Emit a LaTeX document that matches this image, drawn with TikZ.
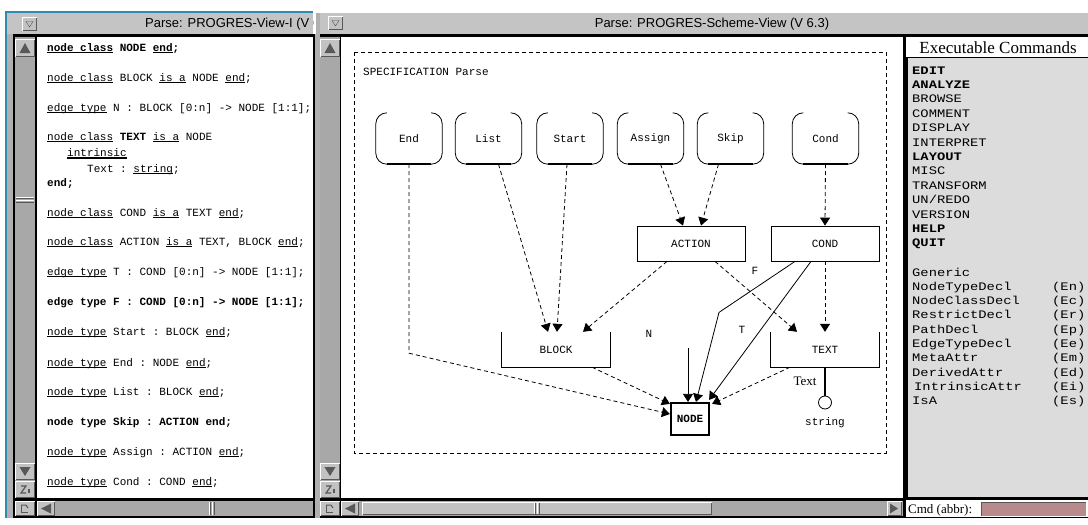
\documentclass[tikz,border=0pt]{standalone}
\usepackage{fontspec}
\setmainfont{Liberation Serif}
\setsansfont{Liberation Sans}
\setmonofont{Liberation Mono}
\newfontfamily\cmdfont[FakeStretch=1.2]{Liberation Mono}
\usetikzlibrary{arrows.meta}

\definecolor{titlegray}{HTML}{C4C4C4}
\definecolor{framegray}{HTML}{B0B0B0}
\definecolor{troughgray}{HTML}{A8A8A8}
\definecolor{btngray}{HTML}{C2C2C2}
\definecolor{btndark}{HTML}{585858}
\definecolor{panegray}{HTML}{DCDCDC}
\definecolor{focusteal}{HTML}{2E8CB0}
\definecolor{fieldpink}{HTML}{B98A8C}

% underlined keyword
\newcommand\ukw[1]{\setbox0\hbox{#1}\rlap{\rule[-2.4pt]{\wd0}{1pt}}\box0\relax}

% bevelled Motif-style button: x1 y1 x2 y2 (y grows downwards)
\newcommand\sbbutton[4]{%
  \fill[btngray] (#1,#2) rectangle (#3,#4);
  \draw[white, line width=1pt] (#1+0.5,#4-0.5) -- (#1+0.5,#2+0.5) -- (#3-0.5,#2+0.5);
  \draw[btndark, line width=1pt] (#1+0.5,#4-0.5) -- (#3-0.5,#4-0.5) -- (#3-0.5,#2+0.5);
}
% vertical and horizontal scrollbar grips
\newcommand\vgrip[3]{%
  \draw[white] (#1,#3-3) -- (#2,#3-3); \draw[btndark] (#1,#3-1.5) -- (#2,#3-1.5);
  \draw[white] (#1,#3+0.5) -- (#2,#3+0.5); \draw[btndark] (#1,#3+2) -- (#2,#3+2);
}
\newcommand\hgrip[3]{%
  \draw[white] (#3-3,#1) -- (#3-3,#2); \draw[btndark] (#3-1.5,#1) -- (#3-1.5,#2);
  \draw[white] (#3+0.5,#1) -- (#3+0.5,#2); \draw[btndark] (#3+2,#1) -- (#3+2,#2);
}
% vertical scrollbar column with its buttons, left x, right x
\newcommand\vscroll[2]{%
  \fill[troughgray] (#1,37) rectangle (#2,498);
  \sbbutton{#1}{39}{#2}{57}
  \fill[btndark] ({(#1+#2)/2},43) -- (#2-4.5,53) -- (#1+4.5,53) -- cycle;
  \sbbutton{#1}{463}{#2}{480}
  \fill[btndark] ({(#1+#2)/2},476) -- (#2-4.5,467) -- (#1+4.5,467) -- cycle;
  \sbbutton{#1}{481}{#2}{498}
  \draw[btndark, line width=1.2pt] (#1+6,486) -- (#1+11,486) -- (#1+6,493) -- (#1+11,493);
  \draw[btndark, line width=1.2pt] (#1+14,489) -- (#1+14,493);
  \sbbutton{#1}{501}{#2}{516}
  \draw[btndark, line width=1pt] (#1+6,505) -- (#1+6,512) -- (#1+13,512);
  \draw[btndark, line width=1pt] (#1+6,505) -- (#1+11,505) -- (#1+13,508);
}

\tikzset{
  isa/.style={dash pattern=on 4pt off 3pt, line width=0.8pt,
              -{Triangle[length=8pt,width=10pt]}},
  rel/.style={line width=0.8pt, -{Triangle[length=8pt,width=10pt]}},
  typebox/.style={minimum width=66pt, minimum height=51pt, inner sep=0pt,
              font=\ttfamily\fontsize{11}{12}\selectfont},
  classbox/.style={minimum width=108pt, minimum height=35pt, inner sep=0pt,
              font=\ttfamily\fontsize{11}{12}\selectfont},
  codeline/.style={anchor=base west, inner sep=0pt,
              font=\ttfamily\fontsize{11}{12}\selectfont},
  cmd/.style={anchor=base west, inner sep=0pt,
              font=\cmdfont\fontsize{11.5}{12}\selectfont},
  monolabel/.style={inner sep=0pt, font=\ttfamily\fontsize{11}{12}\selectfont},
  titletext/.style={inner sep=0pt, anchor=base,
              font=\sffamily\fontsize{13}{14}\selectfont},
}

\newcommand\opentypebox[1]{%
  \draw[line width=0.8pt, rounded corners=11pt]
    ([xshift=11pt]#1.north west) -- (#1.north west) -- (#1.south west)
    -- (#1.south east) -- (#1.north east) -- ([xshift=-11pt]#1.north east);
  \draw[line width=1.8pt] ([xshift=11pt]#1.south west) -- ([xshift=-11pt]#1.south east);
}
\newcommand\openclassbox[1]{%
  \draw[line width=0.8pt] (#1.north west) -- (#1.south west)
    -- (#1.south east) -- (#1.north east);
}

\begin{document}
\begin{tikzpicture}[x=1pt, y=-1pt]
\useasboundingbox (0,0) rectangle (1088,525);
\fill[white] (0,0) rectangle (1088,525);

% ---------------- window frames ----------------
\fill[black] (13,34) rectangle (315,518);
\fill[framegray] (7,12) rectangle (13,518);
\fill[titlegray] (7,12) rectangle (313,34);
\fill[focusteal] (5,12) rectangle (7,518);
\fill[focusteal] (5,11) rectangle (313,12.5);
\fill[black] (320,34) rectangle (1088,518);
\fill[framegray] (315,12) rectangle (320,518);
\fill[titlegray] (320,12) rectangle (1088,34);
\draw[white] (315.5,34) -- (315.5,12.5) -- (1088,12.5);

% window menu buttons
\sbbutton{22}{17}{37}{31}
\draw[btndark] (26,21.5) -- (33,21.5) -- (29.5,27) -- cycle;
\sbbutton{328}{16}{343}{30}
\draw[btndark] (332,20.5) -- (339,20.5) -- (335.5,26) -- cycle;

% titles
\begin{scope}
  \clip (7,12) rectangle (313,34);
  \node[titletext, anchor=base west] (title1) at (145,27.5) {Parse: PROGRES-View-I (V 6.3)};
\end{scope}
\node[titletext] (title2) at (712,27.5) {Parse: PROGRES-Scheme-View (V 6.3)};

% ---------------- left window: textual specification ----------------
\fill[white] (37,37) rectangle (313,498);
\vscroll{15}{35}
\vgrip{16}{34}{200}
\fill[troughgray] (37,501) rectangle (313,516);
\sbbutton{37}{501}{55}{516}
\fill[btndark] (41,508.5) -- (51,503.5) -- (51,513.5) -- cycle;
\hgrip{502}{515}{212}

\begin{scope}
  \clip (37,37) rectangle (313,498);
  \node[codeline] (l1) at (47,51) {\textbf{\ukw{node class} NODE \ukw{end};}};
  \node[codeline] (l2) at (47,81) {\ukw{node class} BLOCK \ukw{is a} NODE \ukw{end};};
  \node[codeline] (l3) at (47,111) {\ukw{edge type} N : BLOCK [0:n] -> NODE [1:1];};
  \node[codeline] (l4) at (47,140) {\ukw{node class} \textbf{TEXT} \ukw{is a} NODE};
  \node[codeline] (l5) at (67,156) {\setbox0\hbox{intrinsic}\rlap{\rule[-2.6pt]{\wd0}{1.6pt}}\box0\relax};
  \node[codeline] (l6) at (87,172) {Text : \ukw{string};};
  \node[codeline] (l7) at (47,186) {\textbf{end;}};
  \node[codeline] (l8) at (47,216) {\ukw{node class} COND \ukw{is a} TEXT \ukw{end};};
  \node[codeline] (l9) at (47,245) {\ukw{node class} ACTION \ukw{is a} TEXT, BLOCK \ukw{end};};
  \node[codeline] (l10) at (47,275) {\ukw{edge type} T : COND [0:n] -> NODE [1:1];};
  \node[codeline] (l11) at (47,305) {\textbf{edge type F : COND [0:n] -> NODE [1:1];}};
  \node[codeline] (l12) at (47,335) {\ukw{node type} Start : BLOCK \ukw{end};};
  \node[codeline] (l13) at (47,366) {\ukw{node type} End : NODE \ukw{end};};
  \node[codeline] (l14) at (47,395) {\ukw{node type} List : BLOCK \ukw{end};};
  \node[codeline] (l15) at (47,425) {\textbf{node type Skip : ACTION end;}};
  \node[codeline] (l16) at (47,455) {\ukw{node type} Assign : ACTION \ukw{end};};
  \node[codeline] (l17) at (47,485) {\ukw{node type} Cond : COND \ukw{end};};
\end{scope}

% ---------------- middle window: graphical scheme ----------------
\fill[white] (341,37) rectangle (903,498);
\vscroll{320}{340}
\fill[troughgray] (341,501) rectangle (903,516);
\sbbutton{341}{501}{359}{516}
\fill[btndark] (345,508.5) -- (355,503.5) -- (355,513.5) -- cycle;
\sbbutton{362}{502}{712}{515}
\hgrip{503}{514}{537}
\sbbutton{887}{501}{902}{516}
\fill[btndark] (898,508.5) -- (890,503.5) -- (890,513.5) -- cycle;

\draw[dash pattern=on 4pt off 3pt, line width=0.8pt] (354,52) rectangle (886,453);
\node[monolabel, anchor=base west] (spec) at (363,75) {SPECIFICATION Parse};

% node types
\node[typebox] (tEnd)    at (409,138.5) {End};
\node[typebox] (tList)   at (488.5,138.5) {List};
\node[typebox] (tStart)  at (570,138.5) {Start};
\node[typebox] (tAssign) at (650.5,138.5) {Assign};
\node[typebox] (tSkip)   at (730.5,138.5) {Skip};
\node[typebox] (tCond)   at (825.5,138.5) {Cond};
\foreach \n in {tEnd,tList,tStart,tAssign,tSkip,tCond} {\opentypebox{\n}}

% node classes
\node[classbox, draw, line width=0.8pt] (ACTION) at (691,243.5) {ACTION};
\node[classbox, draw, line width=0.8pt] (COND) at (825,243.5) {COND};
\node[classbox] (BLOCK) at (556,349.5) {BLOCK};
\node[classbox] (TEXT) at (825,349.5) {TEXT};
\openclassbox{BLOCK}
\openclassbox{TEXT}
\node[draw, line width=2.2pt, minimum width=38pt, minimum height=32pt, inner sep=0pt,
      font=\ttfamily\bfseries\fontsize{11}{12}\selectfont] (NODE) at (690,419) {NODE};

% intrinsic attribute Text : string
\node[circle, draw, line width=0.8pt, minimum size=13pt, inner sep=0pt] (strc) at (825,402.5) {};
\draw[line width=1.6pt] (TEXT.south) -- (strc.north);
\node[inner sep=0pt, font=\rmfamily\fontsize{13}{14}\selectfont] (attr) at (805,381) {Text};
\node[monolabel] (strty) at (825,423) {string};

% is-a edges
\draw[isa] (tEnd.south) -- ++(0,189) -- ([yshift=5pt]NODE.west);
\draw[isa] ([xshift=10pt]tList.south) -- ([xshift=-8pt]BLOCK.north);
\draw[isa] ([xshift=-3pt]tStart.south) -- ([xshift=1pt]BLOCK.north);
\draw[isa] ([xshift=-24pt]ACTION.south) -- ([xshift=27pt]BLOCK.north);
\draw[isa] ([xshift=10pt]tAssign.south) -- ([xshift=-8pt]ACTION.north);
\draw[isa] ([xshift=-12pt]tSkip.south) -- ([xshift=10pt]ACTION.north);
\draw[isa] (tCond.south) -- (COND.north);
\draw[isa] ([xshift=24pt]ACTION.south) -- ([xshift=-28pt]TEXT.north);
\draw[isa] (COND.south) -- (TEXT.north);
\draw[isa] ([xshift=36pt]BLOCK.south) -- ([yshift=-2pt]NODE.north west);
\draw[isa] ([xshift=-35pt]TEXT.south) -- ([xshift=2pt,yshift=-2pt]NODE.north east);

% edge types N, T, F
\coordinate (nstub) at (688,348);
\draw[rel] (nstub) -- ([xshift=-2pt]NODE.north);
\draw[rel] ([xshift=-30pt]COND.south) -- ++(-76,51) -- ([xshift=6pt]NODE.north);
\draw[rel] ([xshift=-14pt]COND.south) -- ([xshift=-1pt,yshift=2pt]NODE.north east);
\node[monolabel] (lblN) at (649,334) {N};
\node[monolabel] (lblT) at (742,330) {T};
\node[monolabel] (lblF) at (755,271) {F};

% ---------------- command panel ----------------
\fill[white] (906,37) rectangle (1088,57);
\fill[panegray] (908,58) rectangle (1088,497);
\node[inner sep=0pt, anchor=base, font=\rmfamily\fontsize{17}{18}\selectfont] (cmdhead) at (998,53) {Executable Commands};

\node[cmd] (c1)  at (912,74)    {\bfseries EDIT};
\node[cmd] (c2)  at (912,88.4)  {\bfseries ANALYZE};
\node[cmd] (c3)  at (912,102.8) {BROWSE};
\node[cmd] (c4)  at (912,117.2) {COMMENT};
\node[cmd] (c5)  at (912,131.6) {DISPLAY};
\node[cmd] (c6)  at (912,146)   {INTERPRET};
\node[cmd] (c7)  at (912,160.4) {\bfseries LAYOUT};
\node[cmd] (c8)  at (912,174.8) {MISC};
\node[cmd] (c9)  at (912,189.2) {TRANSFORM};
\node[cmd] (c10) at (912,203.6) {UN/REDO};
\node[cmd] (c11) at (912,218)   {VERSION};
\node[cmd] (c12) at (912,232.4) {\bfseries HELP};
\node[cmd] (c13) at (912,246.8) {\bfseries QUIT};

\node[cmd] (g0) at (912,276)   {Generic};
\node[cmd] (g1) at (912,290.3) {NodeTypeDecl};
\node[cmd] (g2) at (912,304.6) {NodeClassDecl};
\node[cmd] (g3) at (912,318.9) {RestrictDecl};
\node[cmd] (g4) at (912,333.2) {PathDecl};
\node[cmd] (g5) at (912,347.5) {EdgeTypeDecl};
\node[cmd] (g6) at (912,361.8) {MetaAttr};
\node[cmd] (g7) at (912,376.1) {DerivedAttr};
\node[cmd] (g8) at (914,390.4) {IntrinsicAttr};
\node[cmd] (g9) at (912,404.7) {IsA};
\node[cmd] (a1) at (1052,290.3) {(En)};
\node[cmd] (a2) at (1052,304.6) {(Ec)};
\node[cmd] (a3) at (1052,318.9) {(Er)};
\node[cmd] (a4) at (1052,333.2) {(Ep)};
\node[cmd] (a5) at (1052,347.5) {(Ee)};
\node[cmd] (a6) at (1052,361.8) {(Em)};
\node[cmd] (a7) at (1052,376.1) {(Ed)};
\node[cmd] (a8) at (1052,390.4) {(Ei)};
\node[cmd] (a9) at (1052,404.7) {(Es)};

% command line
\fill[white] (906,500) rectangle (1088,517);
\node[inner sep=0pt, anchor=base west, font=\rmfamily\fontsize{13}{14}\selectfont] (cmdlbl) at (908,513.5) {Cmd (abbr):};
\fill[fieldpink] (981,502) rectangle (1086,516);
\draw[btndark, line width=1pt] (981.5,516) -- (981.5,502.5) -- (1086,502.5);
\end{tikzpicture}
\end{document}
